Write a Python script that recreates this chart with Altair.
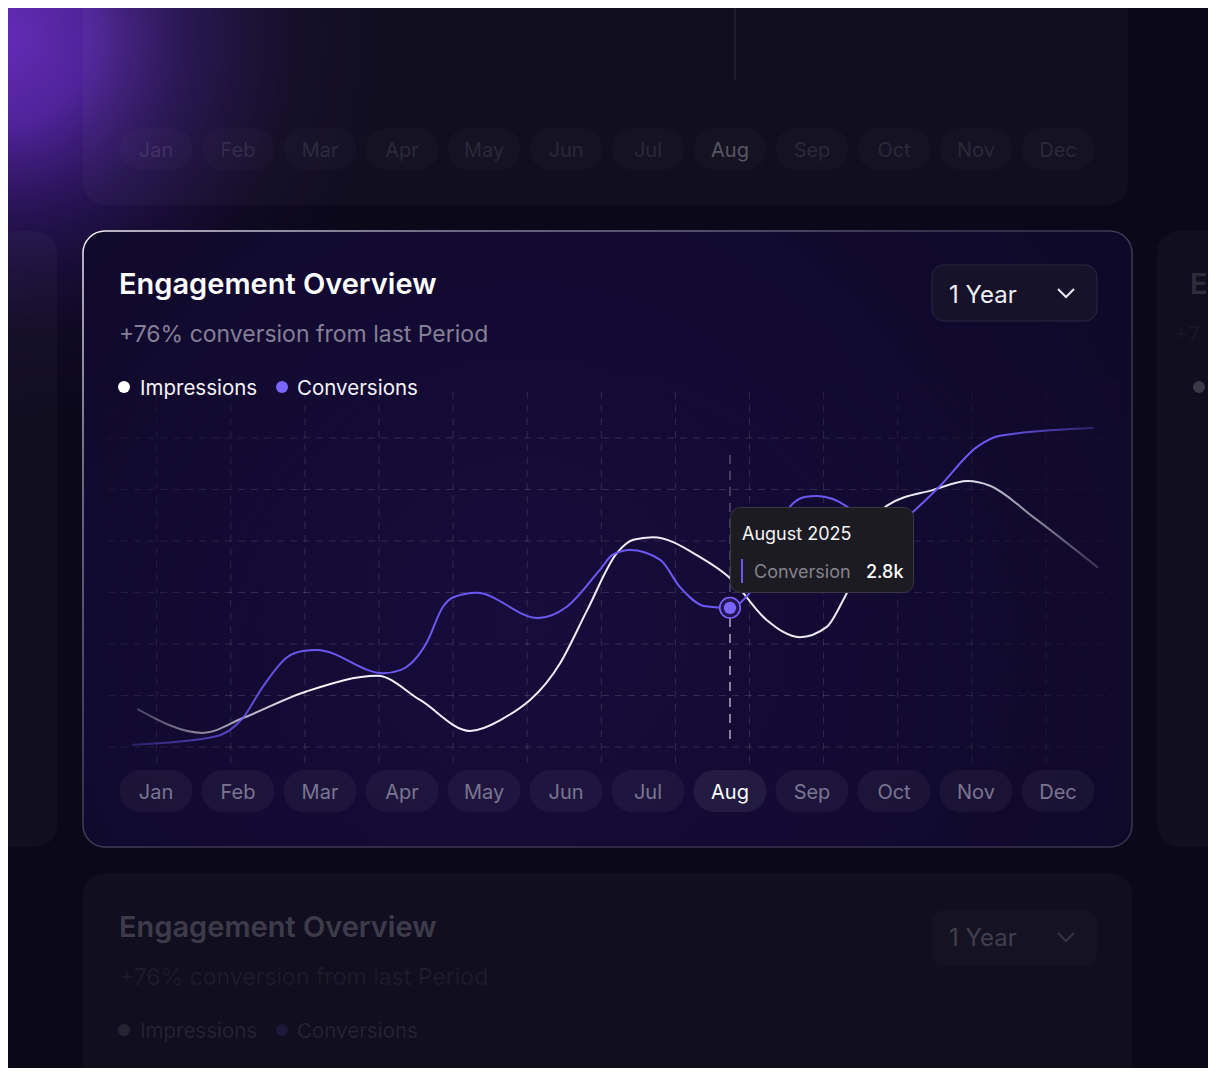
import altair as alt
import pandas as pd

# ---------------- data ----------------
months = ["Jan", "Feb", "Mar", "Apr", "May", "Jun", "Jul", "Aug", "Sep", "Oct", "Nov", "Dec"]
highlight_month = "Aug"
highlight_label = "August 2025"
title = "Engagement Overview"
subtitle = "+76% conversion from last Period"
period = "1 Year"

# Conversions (k): position along the month axis (0 = Jan) and value
conv_x = [-0.28, 0.70, 1.06, 1.30, 1.60, 1.79, 1.96, 2.77, 2.98, 3.30, 3.50, 3.62, 3.91, 4.66,
          5.01, 5.41, 5.57, 5.78, 6.15, 6.39, 6.70, 7.00, 7.24, 7.77, 7.91, 8.06, 8.43, 8.80,
          9.23, 9.54, 10.01, 10.29, 11.43]
conv_y = [0.14, 0.29, 0.66, 1.26, 1.84, 1.96, 1.98, 1.53, 1.59, 2.12, 2.82, 3.00, 3.09, 2.60,
          2.82, 3.53, 3.83, 3.92, 3.73, 3.20, 2.83, 2.80, 3.09, 4.83, 4.95, 4.97, 4.76, 4.12,
          4.66, 5.13, 5.92, 6.14, 6.29]

# Impressions (k)
imp_x = [-0.22, 0.57, 1.06, 1.84, 2.70, 3.22, 3.83, 4.20, 4.93, 5.26, 5.62, 5.82, 6.06, 6.63,
         7.00, 7.45, 7.85, 8.18, 8.40, 8.91, 9.48, 9.90, 10.17, 10.70, 11.48]
imp_y = [0.83, 0.37, 0.66, 1.18, 1.48, 1.01, 0.41, 0.62, 1.73, 2.76, 3.86, 4.12, 4.17, 3.79,
         3.38, 2.56, 2.23, 2.43, 3.01, 4.78, 5.09, 5.26, 5.17, 4.56, 3.59]

# ---------------- layout ----------------
W, H = 1200, 1060
MARGIN = 8
X_JAN, X_STEP = 156.0, 82.0      # page px of Jan, px per month
Y_ZERO, Y_STEP = 752.0, 51.5     # page px of value 0, px per 1k


def mx(px):
    return (px - X_JAN) / X_STEP


def vy(py):
    return (Y_ZERO - py) / Y_STEP


XSC = alt.Scale(domain=[mx(MARGIN), mx(MARGIN + W)], nice=False, zero=False)
YSC = alt.Scale(domain=[vy(MARGIN + H), vy(MARGIN)], nice=False, zero=False)


def X(f):
    return alt.X(f, type="quantitative", scale=XSC, axis=None)


def Y(f):
    return alt.Y(f, type="quantitative", scale=YSC, axis=None)


def box(x1, y1, x2, y2, **mark):
    df = pd.DataFrame({"a": [mx(x1)], "b": [mx(x2)], "c": [vy(y1)], "d": [vy(y2)]})
    return alt.Chart(df).mark_rect(**mark).encode(x=X("a"), x2="b", y=Y("c"), y2="d")


def label(items, **mark):
    df = pd.DataFrame(items, columns=["px", "py", "t"])
    df["a"] = df["px"].map(mx)
    df["c"] = df["py"].map(vy)
    opts = dict(font="Inter", align="left", baseline="alphabetic")
    opts.update(mark)
    return alt.Chart(df).mark_text(**opts).encode(x=X("a"), y=Y("c"), text="t:N")


def dot(px, py, **mark):
    df = pd.DataFrame({"a": [mx(px)], "c": [vy(py)]})
    return alt.Chart(df).mark_circle(**mark).encode(x=X("a"), y=Y("c"))


def chevron(px, py, color):
    df = pd.DataFrame({"a": [mx(px)], "c": [vy(py)]})
    return alt.Chart(df).mark_point(shape="M-1,-0.5L0,0.5L1,-0.5", filled=False, size=256,
                                    stroke=color, strokeWidth=2, opacity=1).encode(x=X("a"), y=Y("c"))


def stops(pairs):
    return [alt.GradientStop(offset=o, color=c) for o, c in pairs]


WHITE = "#f4f2fa"
PURPLE = "#6b58f2"
POINT = "#7c64ff"

layers = []

# purple glow top-left
layers.append(box(0, 0, 820, 500, fill=alt.RadialGradient(
    gradient="radial", x1=0.0, y1=0.24, r1=0.0, x2=0.0, y2=0.24, r2=0.5,
    stops=stops([(0, "rgba(102,45,188,0.97)"), (0.22, "rgba(92,40,176,0.85)"),
                 (0.45, "rgba(62,28,134,0.5)"), (0.72, "rgba(36,16,84,0.2)"),
                 (1, "rgba(20,10,50,0)")]))))

# faint background cards
faint_fill = "rgba(255,255,255,0.028)"
layers.append(box(83, -30, 1128, 205, fill=faint_fill, cornerRadius=22))
layers.append(box(-40, 231, 57, 847, fill=faint_fill, cornerRadius=22))
layers.append(box(1157, 231, 1260, 847, fill=faint_fill, cornerRadius=22))
layers.append(box(83, 873, 1132, 1110, fill=faint_fill, cornerRadius=22))

# faint content of the top card
top_pills = pd.DataFrame({"m": list(range(12)), "label": months})
top_pills["a"] = top_pills["m"] - 0.445
top_pills["b"] = top_pills["m"] + 0.445
top_pills["c"] = vy(128)
top_pills["d"] = vy(170)
top_pills["ty"] = vy(157)
top_pills["tc"] = ["rgba(255,255,255,0.30)" if l == highlight_month else "rgba(255,255,255,0.11)"
                   for l in months]
layers.append(alt.Chart(top_pills).mark_rect(cornerRadius=21, fill="rgba(255,255,255,0.018)")
              .encode(x=X("a"), x2="b", y=Y("c"), y2="d"))
layers.append(alt.Chart(top_pills).mark_text(font="Inter", fontSize=20, align="center",
                                             baseline="alphabetic")
              .encode(x=X("m"), y=Y("ty"), text="label:N", color=alt.Color("tc:N", scale=None)))
layers.append(box(734, 0, 736, 80, fill="rgba(255,255,255,0.06)"))

# faint content of the bottom card and side card
layers.append(label([(119, 937, title)], fontSize=29, fontWeight=600, color="rgba(255,255,255,0.2)"))
layers.append(label([(119, 985, subtitle)], fontSize=23, color="rgba(255,255,255,0.06)"))
layers.append(dot(124, 1030, size=144, color="rgba(255,255,255,0.09)", opacity=1))
layers.append(dot(282, 1030, size=144, color="rgba(124,100,255,0.12)", opacity=1))
layers.append(label([(140, 1037.5, "Impressions"), (297, 1037.5, "Conversions")], fontSize=20.5,
                    color="rgba(255,255,255,0.09)"))
layers.append(box(932, 910, 1097, 966, fill="rgba(255,255,255,0.02)", cornerRadius=12))
layers.append(label([(949, 946, period)], fontSize=24, color="rgba(255,255,255,0.2)"))
layers.append(chevron(1066, 937, "rgba(255,255,255,0.15)"))
layers.append(label([(1190, 294, "E")], fontSize=29, fontWeight=600, color="rgba(255,255,255,0.15)"))
layers.append(label([(1174, 342, "+7")], fontSize=22, color="rgba(255,255,255,0.05)"))
layers.append(dot(1199, 387, size=144, color="rgba(255,255,255,0.18)", opacity=1))

# main card
layers.append(box(83, 231, 1132, 847, cornerRadius=22, strokeWidth=1.5,
                  fill=alt.RadialGradient(gradient="radial", x1=0.42, y1=0.58, r1=0, x2=0.42, y2=0.58, r2=0.75,
                                          stops=stops([(0, "#170c3b"), (0.5, "#120a31"), (1, "#0d0825")])),
                  stroke=alt.LinearGradient(gradient="linear", x1=0, y1=0, x2=0.8, y2=0.7,
                                            stops=stops([(0, "#f2f0f8"), (0.25, "#8a86a0"),
                                                         (0.6, "#3f3a55"), (1, "#38334c")]))))

# grid
vx = [156.7 + 74.1 * k for k in range(13)]
hy = [438 + 51.5 * k for k in range(7)]
gv = pd.DataFrame({"a": [mx(x) for x in vx], "c": vy(392), "d": vy(766)})
gh = pd.DataFrame({"c": [vy(y) for y in hy], "a": mx(108), "b": mx(1112)})
grid_style = dict(stroke="rgba(255,255,255,0.13)", strokeWidth=1, strokeDash=[7, 6])
layers.append(alt.Chart(gv).mark_rule(**grid_style).encode(x=X("a"), y=Y("c"), y2="d"))
layers.append(alt.Chart(gh).mark_rule(**grid_style).encode(x=X("a"), x2="b", y=Y("c")))
# radial fade of the grid
layers.append(box(100, 380, 1120, 768, fill=alt.RadialGradient(
    gradient="radial", x1=0.45, y1=0.62, r1=0, x2=0.45, y2=0.62, r2=0.75,
    stops=stops([(0, "rgba(21,11,55,0)"), (0.42, "rgba(19,10,50,0)"),
                 (0.7, "rgba(17,10,45,0.75)"), (1, "rgba(16,9,42,0.92)")]))))

# month pills
pills = pd.DataFrame({"m": list(range(12)), "label": months})
pills["a"] = pills["m"] - 0.445
pills["b"] = pills["m"] + 0.445
pills["c"] = vy(770)
pills["d"] = vy(812)
pills["ty"] = vy(799)
pills["fill"] = ["rgba(255,255,255,0.065)" if l == highlight_month else "rgba(255,255,255,0.045)"
                 for l in months]
pills["tc"] = ["#ffffff" if l == highlight_month else "#7a7590" for l in months]
layers.append(alt.Chart(pills).mark_rect(cornerRadius=21)
              .encode(x=X("a"), x2="b", y=Y("c"), y2="d", fill=alt.Fill("fill:N", scale=None)))
layers.append(alt.Chart(pills).mark_text(font="Inter", fontSize=20, align="center", baseline="alphabetic")
              .encode(x=X("m"), y=Y("ty"), text="label:N", color=alt.Color("tc:N", scale=None)))

# highlight guide line
hm = months.index(highlight_month)
guide = pd.DataFrame({"m": [hm, hm], "c": [vy(455), vy(618)], "d": [vy(598), vy(745)],
                      "op": [0.35, 0.85]})
layers.append(alt.Chart(guide).mark_rule(stroke="#cac7d6", strokeWidth=1.5, strokeDash=[9, 7])
              .encode(x=X("m"), y=Y("c"), y2="d", opacity=alt.Opacity("op:Q", scale=None)))

# series lines
imp_df = pd.DataFrame({"m": imp_x, "v": imp_y})
conv_df = pd.DataFrame({"m": conv_x, "v": conv_y})
layers.append(alt.Chart(imp_df).mark_line(
    interpolate="monotone", strokeWidth=2, strokeCap="round",
    stroke=alt.LinearGradient(gradient="linear", x1=0, y1=0, x2=1, y2=0,
                              stops=stops([(0, "rgba(244,242,250,0.25)"), (0.18, "rgba(244,242,250,1)"),
                                           (0.86, "rgba(244,242,250,0.95)"), (1, "rgba(244,242,250,0.18)")]))
).encode(x=X("m"), y=Y("v"), order="m:Q"))
layers.append(alt.Chart(conv_df).mark_line(
    interpolate="monotone", strokeWidth=2, strokeCap="round",
    stroke=alt.LinearGradient(gradient="linear", x1=0, y1=0, x2=1, y2=0,
                              stops=stops([(0, "rgba(107,88,242,0.3)"), (0.16, "rgba(107,88,242,1)"),
                                           (0.9, "rgba(107,88,242,1)"), (1, "rgba(107,88,242,0.3)")]))
).encode(x=X("m"), y=Y("v"), order="m:Q"))

# highlighted point
aug_v = conv_y[conv_x.index(float(hm))]
pt = pd.DataFrame({"m": [hm], "v": [aug_v]})
layers.append(alt.Chart(pt).mark_circle(size=420, fill="#241652", stroke=POINT, strokeWidth=1.6, opacity=1)
              .encode(x=X("m"), y=Y("v")))
layers.append(alt.Chart(pt).mark_circle(size=150, color=POINT, opacity=1).encode(x=X("m"), y=Y("v")))

# tooltip
layers.append(box(730.5, 507.5, 913.5, 592.5, fill="#1c1b21", stroke="#393841", strokeWidth=1, cornerRadius=10))
layers.append(box(741, 559, 743, 583, fill=PURPLE))
layers.append(label([(742, 539.5, highlight_label)], fontSize=18, color="#f4f4f6"))
layers.append(label([(754, 577.5, "Conversion")], fontSize=18, color="#85848c"))
layers.append(label([(866, 577.5, f"{aug_v:.1f}k")], fontSize=18, fontWeight=500, color="#ffffff"))

# header
layers.append(label([(119, 294, title)], fontSize=29, fontWeight=600, color="#ffffff"))
layers.append(label([(119, 342, subtitle)], fontSize=23, color="#857f97"))
layers.append(dot(124, 387, size=144, color="#ffffff", opacity=1))
layers.append(dot(282, 387, size=144, color=POINT, opacity=1))
layers.append(label([(140, 394.5, "Impressions"), (297, 394.5, "Conversions")], fontSize=20.5, color="#f4f3f8"))

# period selector
layers.append(box(932, 265, 1097, 321, fill="#15122a", stroke="#2b2842", strokeWidth=1, cornerRadius=12))
layers.append(label([(949, 302.5, period)], fontSize=24, color="#f0eff5"))
layers.append(chevron(1066, 293, "#ecebf2"))

chart = alt.layer(*layers).properties(
    width=W, height=H, padding=0,
    autosize=alt.AutoSizeParams(type="none"),
    background="#0b0819",
).configure_view(stroke=None)

chart.save("out.html", embed_options={"renderer": "svg", "actions": False})
